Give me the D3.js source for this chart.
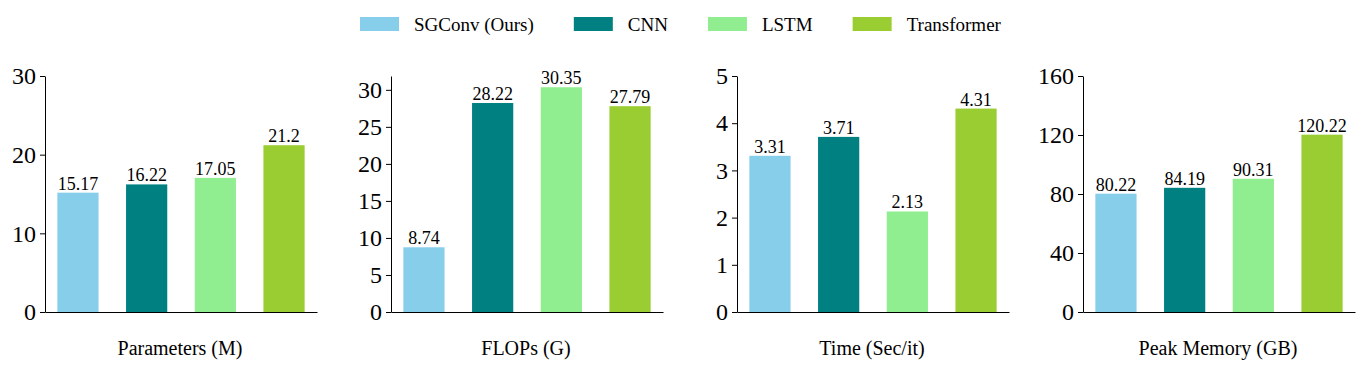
<!DOCTYPE html>
<html>
<head>
<meta charset="utf-8">
<script src="https://cdn.jsdelivr.net/npm/d3@7"></script>
<style>
    body { margin: 0; background: #fff; }
</style>
</head>
<body>
<svg id="chart" width="1366" height="370"></svg>
<script>
const models = ['SGConv (Ours)', 'CNN', 'LSTM', 'Transformer'];
const colors = ['#87CEEB', '#008080', '#90EE90', '#9ACD32'];

const metrics = ['Parameters (M)', 'FLOPs (G)', 'Time (Sec/it)', 'Peak Memory (GB)'];
const paramValues = [15.17, 16.22, 17.05, 21.2];
const flopValues = [8.74, 28.22, 30.35, 27.79];
const timeValues = [3.31, 3.71, 2.13, 4.31];
const memoryValues = [80.22, 84.19, 90.31, 120.22];

const paramTicks = [0, 10, 20, 30];
const flopTicks = [0, 5, 10, 15, 20, 25, 30];
const timeTicks = [0, 1, 2, 3, 4, 5];
const memoryTicks = [0, 40, 80, 120, 160];

const FONT = '"Liberation Serif", "Times New Roman", Times, serif';

const panels = [
    { title: metrics[0], values: paramValues, ticks: paramTicks, yMax: 30 },
    { title: metrics[1], values: flopValues, ticks: flopTicks, yMax: d3.max(flopValues) * 1.05 },
    { title: metrics[2], values: timeValues, ticks: timeTicks, yMax: 5 },
    { title: metrics[3], values: memoryValues, ticks: memoryTicks, yMax: 160 }
];

const PANEL_LEFT = 45;
const PANEL_STEP = 346;
const PANEL_WIDTH = 272;
const TOP = 76;
const BOTTOM = 312;
const BAR_WIDTH = 0.6;

const svg = d3.select('#chart').style('font-family', FONT);

panels.forEach((p, k) => {
    const x0 = PANEL_LEFT + k * PANEL_STEP;
    const g = svg.append('g').attr('transform', `translate(${x0},0)`);

    // matplotlib style x limits: bars at 0..3, width 0.6, 5% margins
    const x = d3.scaleLinear().domain([-0.48, 3.48]).range([0, PANEL_WIDTH]);
    const y = d3.scaleLinear().domain([0, p.yMax]).range([BOTTOM, TOP]);

    g.selectAll('rect.bar')
        .data(p.values)
        .enter()
        .append('rect')
        .attr('class', 'bar')
        .attr('x', (d, i) => x(i - BAR_WIDTH / 2))
        .attr('width', x(BAR_WIDTH / 2) - x(-BAR_WIDTH / 2))
        .attr('y', d => y(d))
        .attr('height', d => y(0) - y(d))
        .attr('fill', (d, i) => colors[i]);

    g.selectAll('text.val')
        .data(p.values)
        .enter()
        .append('text')
        .attr('class', 'val')
        .attr('x', (d, i) => x(i))
        .attr('y', d => y(d) - 3)
        .attr('text-anchor', 'middle')
        .style('font-family', FONT)
        .style('font-size', '18px')
        .text(d => d);

    const yAxis = g.append('g')
        .call(d3.axisLeft(y)
            .tickValues(p.ticks)
            .tickFormat(d => String(d))
            .tickSize(5)
            .tickSizeOuter(0)
            .tickPadding(4));
    yAxis.attr('font-family', null).attr('font-size', null);
    yAxis.select('.domain').attr('stroke', '#000').attr('stroke-width', 1);
    yAxis.selectAll('.tick line').attr('stroke', '#000');
    yAxis.selectAll('.tick text')
        .attr('fill', '#000')
        .style('font-family', FONT)
        .style('font-size', '24px');

    const xAxis = g.append('g')
        .attr('transform', `translate(0,${BOTTOM})`)
        .call(d3.axisBottom(x).tickValues([]).tickSizeOuter(0));
    xAxis.select('.domain').attr('stroke', '#000').attr('stroke-width', 1);

    g.append('text')
        .attr('x', PANEL_WIDTH / 2 - 1)
        .attr('y', 355)
        .attr('text-anchor', 'middle')
        .style('font-family', FONT)
        .style('font-size', '20px')
        .text(p.title);
});

// legend along the top
const legend = svg.append('g');
let lx = 360;
models.forEach((m, i) => {
    legend.append('rect')
        .attr('x', lx)
        .attr('y', 17)
        .attr('width', 39)
        .attr('height', 14)
        .attr('fill', colors[i]);
    const t = legend.append('text')
        .attr('x', lx + 54)
        .attr('y', 31)
        .style('font-family', FONT)
        .style('font-size', '19px')
        .text(m);
    lx += 54 + t.node().getComputedTextLength() + 40;
});
</script>
</body>
</html>
